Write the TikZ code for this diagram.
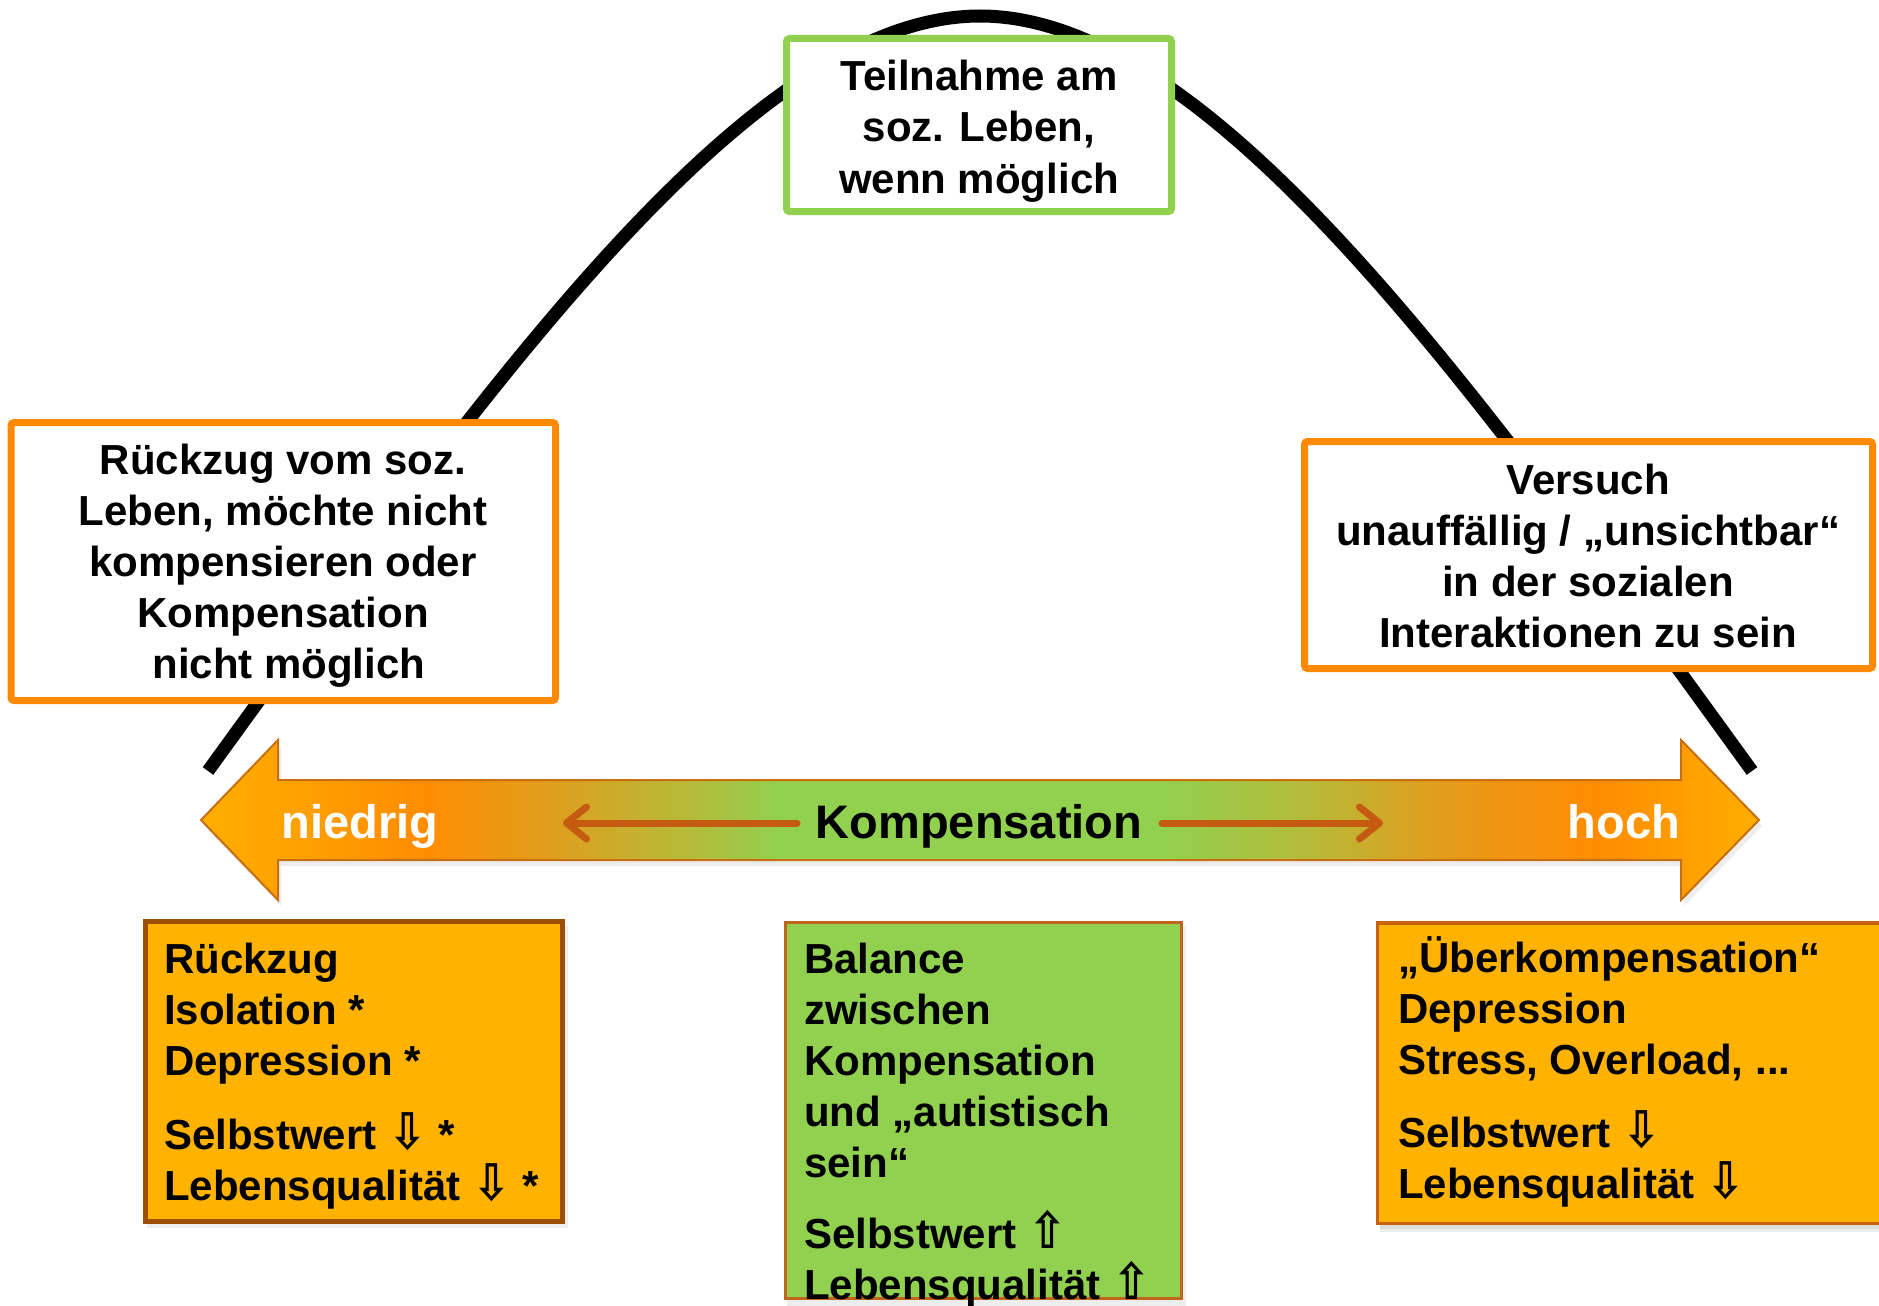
\documentclass[tikz,border=0pt]{standalone}
\usepackage{fontspec}
\setmainfont{Liberation Sans}
\newfontfamily\arrowfont{DejaVu Sans}
\usetikzlibrary{arrows.meta}

\definecolor{ogreen}{HTML}{92D050}
\definecolor{oorange}{HTML}{FF8A00}
\definecolor{amber}{HTML}{FFB300}
\definecolor{brownb}{HTML}{9C4F00}
\definecolor{rustb}{HTML}{C8620F}
\definecolor{midb}{HTML}{C0641E}
\definecolor{darkor}{HTML}{C55A11}
\definecolor{arrbord}{HTML}{C8700F}
\definecolor{sA}{HTML}{FFAE00}
\definecolor{sA2}{HTML}{FFA000}
\definecolor{sB}{HTML}{FF8C00}
\definecolor{sC}{HTML}{DDA020}
\definecolor{sD}{HTML}{B3BC3A}
\definecolor{sE}{HTML}{F09412}

\pgfdeclarehorizontalshading{kompshade}{100bp}{%
color(0bp)=(sA); color(25bp)=(sA); color(28.2bp)=(sA2); color(32.25bp)=(sB);
color(36.55bp)=(sC); color(40.85bp)=(sD); color(43.6bp)=(ogreen);
color(55.8bp)=(ogreen); color(60.25bp)=(sD); color(64.2bp)=(sC);
color(66.7bp)=(sE); color(69.8bp)=(sB); color(75bp)=(sA); color(100bp)=(sA)}

\newcommand\darr{{\arrowfont\fontsize{44}{51}\selectfont\scalebox{1.05}[1.15]{⇩}}}
\newcommand\uarr{{\arrowfont\fontsize{44}{51}\selectfont\scalebox{1.05}[1.15]{⇧}}}

\tikzset{
  boxtxt/.style={inner sep=0pt, font=\fontsize{42}{51}\selectfont\bfseries},
  arrtxt/.style={inner sep=0pt, anchor=base, font=\fontsize{47}{51}\selectfont\bfseries},
  topbox/.style={draw=ogreen, line width=7pt, fill=white, rounded corners=3pt, inner sep=0pt},
  sidebox/.style={draw=oorange, line width=7pt, fill=white, rounded corners=3pt, inner sep=0pt},
  lowbox/.style={inner sep=0pt},
  softshadow/.style={fill=black, fill opacity=0.07, draw=none},
  smallarr/.style={draw=darkor, line width=7pt, line cap=round,
     -{Straight Barb[round, length=20pt, width=32pt]}},
}

\begin{document}
\begin{tikzpicture}[x=1pt,y=-1pt]
\useasboundingbox (0,0) rectangle (1879,1306);
\clip (0,0) rectangle (1879,1306);

% bell curve
\draw[line width=13pt, black] (208,771) .. controls (488,385) and (750,16) .. (980,16)
  .. controls (1210,16) and (1472,385) .. (1752,771);

% upper boxes
\node[topbox, minimum width=385pt, minimum height=173pt] (topb) at (979,125) {};
\node[boxtxt, anchor=base] (toptxt) at (979,91)
  {\parbox[t]{380pt}{\centering Teilnahme am\\soz. Leben,\\wenn möglich}};

\node[sidebox, minimum width=544.5pt, minimum height=278pt] (leftb) at (283.25,561.5) {};
\node[boxtxt, anchor=base] (lefttxt) at (283,474)
  {\parbox[t]{540pt}{\centering Rückzug vom soz.\\Leben, möchte nicht\\kompensieren oder\\Kompensation\\\hspace*{11.7pt}nicht möglich}};

\node[sidebox, minimum width=568pt, minimum height=227pt] (rightb) at (1588.5,555) {};
\node[boxtxt, anchor=base] (righttxt) at (1588,494)
  {\parbox[t]{560pt}{\centering Versuch\\unauffällig / „unsichtbar“\\in der sozialen\\Interaktionen zu sein}};

% big double arrow
\fill[softshadow] (204,826) -- (281,746) -- (281,786) -- (1684,786) -- (1684,746) -- (1762,826)
 -- (1684,906) -- (1684,866) -- (281,866) -- (281,906) -- cycle;
\shadedraw[shading=kompshade, draw=arrbord, line width=2pt]
 (201,820) -- (278,740) -- (278,780) -- (1681,780) -- (1681,740) -- (1759,820)
 -- (1681,900) -- (1681,860) -- (278,860) -- (278,900) -- cycle;

\node[arrtxt, text=white] (low) at (360,838) {niedrig};
\node[arrtxt, text=black] (komp) at (979,838) {Kompensation};
\node[arrtxt, text=white] (high) at (1624,838) {hoch};

\coordinate (kl1) at (797,823);
\coordinate (kl2) at (563,823);
\coordinate (kr1) at (1162,823);
\coordinate (kr2) at (1383,823);
\draw[smallarr] (kl1) -- (kl2);
\draw[smallarr] (kr1) -- (kr2);

% lower boxes
\fill[softshadow] (147,926) rectangle (568,1228);
\fill[softshadow] (787,926) rectangle (1186,1306);
\fill[softshadow] (1380,927) rectangle (1879,1232);
\fill[softshadow] (1380,927) rectangle (1879,1229);

\node[lowbox, fill=amber, draw=brownb, line width=5pt, minimum width=417pt, minimum height=300pt] (bl) at (354,1071.5) {};
\node[boxtxt, anchor=base west] (bltxt) at (164,973)
  {\parbox[t]{400pt}{\raggedright Rückzug\\Isolation *\\Depression *\\[23pt]Selbstwert \darr{} *\\Lebensqualität \darr{} *}};

\node[lowbox, fill=ogreen, draw=midb, line width=3pt, minimum width=396pt, minimum height=376pt] (bm) at (983,1110) {};
\node[boxtxt, anchor=base west] (bmtxt) at (804,973)
  {\parbox[t]{370pt}{\raggedright Balance\\zwischen\\Kompensation\\und „autistisch\\sein“\\[20pt]Selbstwert \uarr\\Lebensqualität \uarr}};

\node[lowbox, fill=amber, draw=rustb, line width=3.5pt, minimum width=527.5pt, minimum height=300.5pt] (br) at (1641,1073) {};
\node[boxtxt, anchor=base west] (brtxt) at (1398,972)
  {\parbox[t]{470pt}{\raggedright „Überkompensation“\\Depression\\Stress, Overload, ...\\[22pt]Selbstwert \darr\\Lebensqualität \darr}};

\end{tikzpicture}
\end{document}
